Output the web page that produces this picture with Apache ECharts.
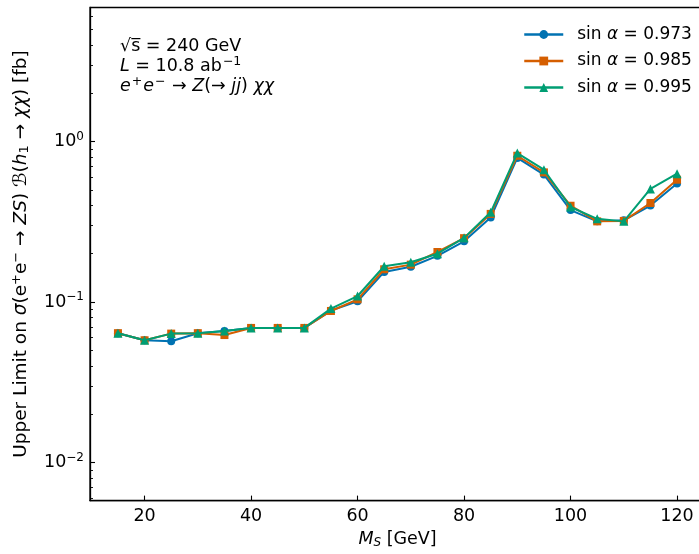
<!DOCTYPE html>
<html>
<head>
<meta charset="utf-8">
<script src="https://cdn.jsdelivr.net/npm/echarts@6/dist/echarts.min.js"></script>
<style>
html,body{margin:0;padding:0;background:#fff;overflow:hidden;}
#chart{width:720px;height:554px;}
</style>
</head>
<body>
<div id="chart"></div>
<script>
// ---- data ----
var massPoints = [15, 20, 25, 30, 35, 40, 45, 50, 55, 60, 65, 70, 75, 80, 85, 90, 95, 100, 105, 110, 115, 120];
var seriesNames = ['sin α = 0.973', 'sin α = 0.985', 'sin α = 0.995'];
var limits973 = [0.064, 0.0578, 0.057, 0.064, 0.066, 0.069, 0.069, 0.069, 0.0885, 0.101, 0.154, 0.166, 0.194, 0.239, 0.336, 0.79, 0.622, 0.374, 0.318, 0.323, 0.399, 0.548];
var limits985 = [0.064, 0.0578, 0.0636, 0.064, 0.0623, 0.069, 0.069, 0.069, 0.088, 0.104, 0.160, 0.171, 0.205, 0.25, 0.354, 0.815, 0.642, 0.398, 0.318, 0.32, 0.414, 0.578];
var limits995 = [0.064, 0.0578, 0.0636, 0.064, 0.066, 0.069, 0.069, 0.069, 0.091, 0.109, 0.167, 0.177, 0.200, 0.251, 0.362, 0.847, 0.667, 0.391, 0.33, 0.318, 0.506, 0.63];
var xTickValues = [20, 40, 60, 80, 100, 120];
var yMajorTicks = [0.01, 0.1, 1];
var yMinorTicks = [0.006, 0.007, 0.008, 0.009, 0.02, 0.03, 0.04, 0.05, 0.06, 0.07, 0.08, 0.09,
                   0.2, 0.3, 0.4, 0.5, 0.6, 0.7, 0.8, 0.9, 2, 3, 4, 5, 6];
var xRange = [9.75, 125.25];
var yRange = [0.0058, 6.83];
var colors = ['#0072B2', '#D55E00', '#009E73'];

var FONT = 'DejaVu Sans';
var FS = 17.5;
var chart = echarts.init(document.getElementById('chart'), null, {renderer: 'canvas'});

function expLabel(v) {
  var e = Math.round(Math.log10(v));
  var s = e < 0 ? '\u2212' + (-e) : '' + e;
  return '10{sup|' + s + '}';
}

var option = {
  animation: false,
  backgroundColor: '#fff',
  color: colors,
  grid: {left: 90, top: 7.5, right: 15, bottom: 51.5, containLabel: false,
         show: true, borderColor: '#000', borderWidth: 1.3, backgroundColor: 'transparent'},
  legend: {
    orient: 'vertical',
    left: 518,
    top: 21,
    itemWidth: 39,
    itemHeight: 11,
    itemGap: 9.5,
    data: seriesNames,
    lineStyle: {width: 2.5},
    formatter: function (n) { return n.replace('α', '{i|α}'); },
    textStyle: {
      fontFamily: FONT, fontSize: 17, color: '#000', padding: [0, 0, 0, 9],
      rich: {i: {fontStyle: 'italic', fontFamily: FONT, fontSize: 17, color: '#000'}}
    }
  },
  xAxis: {
    type: 'value',
    min: xRange[0],
    max: xRange[1],
    name: '{i|M}{sub|S} [GeV]',
    nameLocation: 'middle',
    nameGap: 29,
    nameTextStyle: {
      fontFamily: FONT, fontSize: FS, color: '#000',
      rich: {
        i: {fontStyle: 'italic', fontFamily: FONT, fontSize: FS, color: '#000'},
        sub: {fontStyle: 'italic', fontFamily: FONT, fontSize: 12, color: '#000', padding: [7, 0, 0, 0]}
      }
    },
    axisLine: {show: true, onZero: false, lineStyle: {color: '#000', width: 1.3}},
    axisTick: {show: true, inside: true, length: 5, customValues: xTickValues, lineStyle: {color: '#000', width: 1.1}},
    axisLabel: {show: true, customValues: xTickValues, margin: 7, fontFamily: FONT, fontSize: FS, color: '#000'},
    splitLine: {show: false}
  },
  yAxis: [{
    type: 'log',
    logBase: 10,
    min: yRange[0],
    max: yRange[1],
    name: 'Upper Limit on {i|σ}(e{sup|+}e{sup|\u2212} \u2192 {i|ZS}) \u212C({i|h}{sub|1} \u2192 {i|χχ}) [fb]',
    nameLocation: 'middle',
    nameGap: 57,
    nameTextStyle: {
      fontFamily: FONT, fontSize: 18.5, color: '#000',
      rich: {
        i: {fontStyle: 'italic', fontFamily: FONT, fontSize: 18.5, color: '#000'},
        sup: {fontFamily: FONT, fontSize: 13, color: '#000', padding: [0, 0, 10, 0]},
        sub: {fontFamily: FONT, fontSize: 13, color: '#000', padding: [7, 0, 0, 0]}
      }
    },
    axisLine: {show: true, onZero: false, lineStyle: {color: '#000', width: 1.3}},
    axisTick: {show: true, inside: true, length: 5, customValues: yMajorTicks, lineStyle: {color: '#000', width: 1.1}},
    axisLabel: {
      show: true, customValues: yMajorTicks, margin: 6,
      formatter: function (v) { return expLabel(v); },
      fontFamily: FONT, fontSize: FS, color: '#000',
      rich: {sup: {fontSize: 12, fontFamily: FONT, color: '#000', padding: [0, 0, 10, 0]}}
    },
    splitLine: {show: false},
    minorTick: {show: false}
  }, {
    type: 'log',
    logBase: 10,
    min: yRange[0],
    max: yRange[1],
    position: 'left',
    offset: 0,
    axisLine: {show: false},
    axisTick: {show: true, inside: true, length: 3, customValues: yMinorTicks, lineStyle: {color: '#000', width: 0.9}},
    axisLabel: {show: false},
    splitLine: {show: false}
  }],
  graphic: [{
    type: 'text', left: 120, top: 36,
    style: {
      text: '√s\u0305 = 240 GeV\n{i|L} = 10.8 ab{sup|\u22121}\n{i|e}{sup|+}{i|e}{sup|\u2212} \u2192 {i|Z}(\u2192 {i|jj}) {i|χχ}',
      fontFamily: FONT, fontSize: FS, fill: '#000', lineHeight: 20,
      rich: {
        i: {fontStyle: 'italic', fontFamily: FONT, fontSize: FS, fill: '#000', lineHeight: 20},
        sup: {fontFamily: FONT, fontSize: 12.5, fill: '#000', padding: [0, 1, 9, 1], lineHeight: 20}
      }
    }
  }],
  series: [
    {name: seriesNames[0], type: 'line', symbol: 'circle', symbolSize: 8,
     data: massPoints.map(function (m, i) { return [m, limits973[i]]; }),
     lineStyle: {width: 2}, itemStyle: {color: colors[0]}, z: 2},
    {name: seriesNames[1], type: 'line', symbol: 'rect', symbolSize: 8,
     data: massPoints.map(function (m, i) { return [m, limits985[i]]; }),
     lineStyle: {width: 2}, itemStyle: {color: colors[1]}, z: 3},
    {name: seriesNames[2], type: 'line', symbol: 'triangle', symbolSize: 9,
     data: massPoints.map(function (m, i) { return [m, limits995[i]]; }),
     lineStyle: {width: 2}, itemStyle: {color: colors[2]}, z: 4}
  ]
};
chart.setOption(option);
</script>
</body>
</html>
